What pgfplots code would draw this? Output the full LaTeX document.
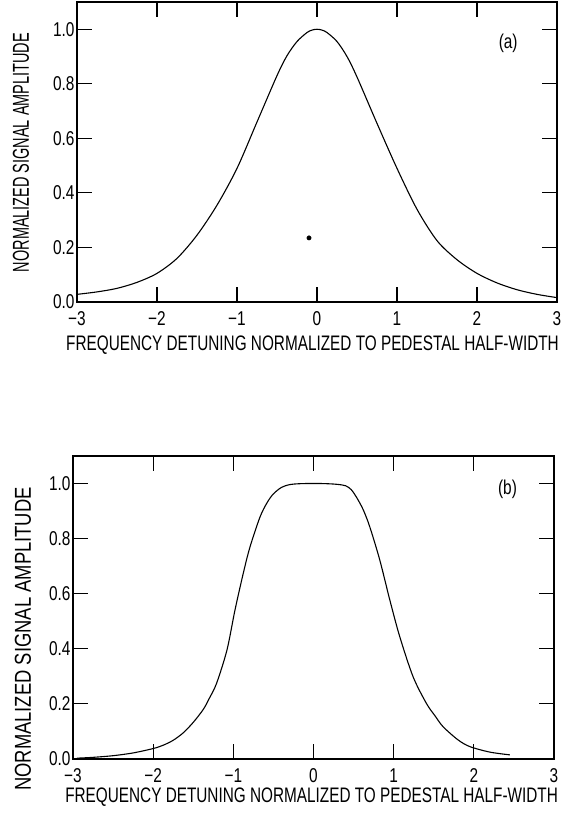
\documentclass[border=0pt]{standalone}
\usepackage{fontspec}
\usepackage{pgfplots}
\pgfplotsset{compat=1.18}
\setmainfont{Liberation Sans}
\newfontfamily\tickf{Liberation Sans}[FakeStretch=0.77]
\newfontfamily\xlabf{Liberation Sans}[FakeStretch=0.73]
\newfontfamily\ylabAf{Liberation Sans}[FakeStretch=0.63]
\newfontfamily\ylabBf{Liberation Sans}[FakeStretch=0.80]

\pgfplotsset{
  mystyle/.style={
    scale only axis,
    xmin=-3, xmax=3, ymin=0, ymax=1.1,
    axis line style={line width=1.5pt},
    tick style={line width=1.1pt, black},
    major tick length=15pt,
    tick align=inside,
    tickpos=both,
    xtick={-3,-2,-1,0,1,2,3},
    xticklabels={−3,−2,−1,0,1,2,3},
    ytick={0,0.2,0.4,0.6,0.8,1.0},
    yticklabels={0.0,0.2,0.4,0.6,0.8,1.0},
    ticklabel style={font=\tickf\fontsize{20}{20}\selectfont},
    xticklabel style={yshift=-6pt},
    yticklabel style={xshift=1pt},
    clip=false,
  }
}

\begin{document}
\begin{tikzpicture}[x=1pt,y=1pt]
\path[use as bounding box] (0,0) rectangle (575,813);

% ---------- (a) ----------
\begin{axis}[mystyle,
  at={(77pt,511pt)}, anchor=south west,
  width=480pt, height=300pt,
  xlabel={\xlabf\fontsize{21}{21}\selectfont FREQUENCY DETUNING NORMALIZED TO PEDESTAL HALF-WIDTH},
  xlabel style={at={(axis description cs:0.4906,-0.145)}, anchor=center},
  ylabel={\ylabAf\fontsize{23}{23}\selectfont NORMALIZED SIGNAL AMPLITUDE},
  ylabel style={at={(axis description cs:-0.117,0.498)}, anchor=center},
]
\addplot[black, line width=1.1pt, smooth] coordinates {
(-3.00,0.028) (-2.75,0.037) (-2.50,0.050) (-2.25,0.072) (-2.00,0.105)
(-1.75,0.160) (-1.50,0.245) (-1.25,0.355) (-1.00,0.490) (-0.75,0.660)
(-0.50,0.830) (-0.375,0.903) (-0.25,0.955) (-0.125,0.988) (-0.0625,0.997)
(0.00,1.000) (0.0625,0.997) (0.125,0.988) (0.25,0.955) (0.375,0.900)
(0.50,0.825)
(0.75,0.655) (1.00,0.490) (1.25,0.340) (1.50,0.225) (1.75,0.155)
(2.00,0.105) (2.25,0.070) (2.50,0.045) (2.75,0.028) (3.00,0.016)
};
\addplot[only marks, mark=*, mark size=2.2pt, black] coordinates {(-0.10,0.235)};
\node[font=\tickf\fontsize{20}{20}\selectfont] at (axis cs:2.39,0.95) {(a)};
\end{axis}

% ---------- (b) ----------
\begin{axis}[mystyle,
  at={(73pt,54pt)}, anchor=south west,
  width=481pt, height=303pt,
  xlabel={\xlabf\fontsize{21}{21}\selectfont FREQUENCY DETUNING NORMALIZED TO PEDESTAL HALF-WIDTH},
  xlabel style={at={(axis description cs:0.496,-0.127)}, anchor=center},
  ylabel={\ylabBf\fontsize{23}{23}\selectfont NORMALIZED SIGNAL AMPLITUDE},
  ylabel style={at={(axis description cs:-0.104,0.396)}, anchor=center},
]
\addplot[black, line width=1.1pt, smooth] coordinates {
(-2.95,0.003) (-2.75,0.006) (-2.50,0.012) (-2.25,0.022) (-2.00,0.038)
(-1.875,0.050) (-1.75,0.068) (-1.625,0.095) (-1.50,0.133) (-1.375,0.180)
(-1.30,0.220) (-1.21,0.274) (-1.08,0.395)
(-0.98,0.540) (-0.877,0.673) (-0.793,0.769) (-0.668,0.878) (-0.58,0.930)
(-0.502,0.962) (-0.40,0.986) (-0.30,0.996) (-0.20,0.999) (-0.10,1.000)
(0.00,1.000) (0.10,1.000) (0.20,0.999) (0.30,0.997) (0.40,0.992)
(0.47,0.978) (0.537,0.950) (0.62,0.905) (0.703,0.842)
(0.828,0.721) (0.953,0.576) (1.077,0.443) (1.243,0.298) (1.41,0.201)
(1.52,0.155) (1.617,0.117) (1.80,0.070) (1.95,0.045) (2.20,0.025) (2.45,0.015)
};
\node[font=\tickf\fontsize{20}{20}\selectfont] at (axis cs:2.42,0.98) {(b)};
\end{axis}
\end{tikzpicture}
\end{document}
